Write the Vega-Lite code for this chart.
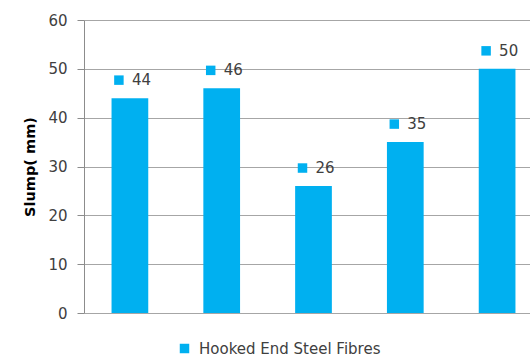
{
  "$schema": "https://vega.github.io/schema/vega-lite/v6.json",
  "autosize": "none",
  "width": 459,
  "height": 293,
  "padding": {"left": 84, "top": 20, "right": 0, "bottom": 44},
  "background": "white",
  "config": {
    "view": {"stroke": null},
    "font": "DejaVu Sans"
  },
  "data": {
    "values": [
      {"mix": "M1", "series": "Hooked End Steel Fibres", "slump": 44},
      {"mix": "M2", "series": "Hooked End Steel Fibres", "slump": 46},
      {"mix": "M3", "series": "Hooked End Steel Fibres", "slump": 26},
      {"mix": "M4", "series": "Hooked End Steel Fibres", "slump": 35},
      {"mix": "M5", "series": "Hooked End Steel Fibres", "slump": 50}
    ]
  },
  "encoding": {
    "x": {
      "field": "mix",
      "type": "nominal",
      "sort": null,
      "scale": {"paddingInner": 0.6, "paddingOuter": 0.3},
      "axis": null
    },
    "y": {
      "field": "slump",
      "type": "quantitative",
      "scale": {"domain": [0, 60], "nice": false},
      "axis": {
        "title": "Slump( mm)",
        "titleFont": "DejaVu Sans",
        "titleFontSize": 14.5,
        "titleFontWeight": "bold",
        "titleColor": "#000000",
        "titlePadding": 10,
        "values": [0, 10, 20, 30, 40, 50, 60],
        "labelFont": "DejaVu Sans",
        "labelFontSize": 15,
        "labelColor": "#404040",
        "labelPadding": 10,
        "tickSize": 7,
        "tickColor": "#8c8c8c",
        "domainColor": "#8c8c8c",
        "grid": true,
        "gridColor": "#a6a6a6",
        "gridWidth": 1
      }
    }
  },
  "layer": [
    {
      "mark": {"type": "bar", "color": "#00B0F0"},
      "encoding": {
        "color": {
          "field": "series",
          "type": "nominal",
          "scale": {"range": ["#00B0F0"]},
          "legend": {
            "title": null,
            "orient": "none",
            "legendX": 93,
            "legendY": 321,
            "padding": 0,
            "symbolType": "square",
            "symbolSize": 90,
            "symbolStrokeWidth": 0,
            "labelFont": "DejaVu Sans",
            "labelFontSize": 15,
            "labelColor": "#404040",
            "labelOffset": 7,
            "labelLimit": 400
          }
        }
      }
    },
    {
      "mark": {"type": "point", "shape": "square", "filled": true, "size": 90, "color": "#00B0F0", "opacity": 1, "xOffset": -11, "yOffset": -18}
    },
    {
      "mark": {"type": "text", "align": "left", "baseline": "middle", "xOffset": 2, "yOffset": -18, "font": "DejaVu Sans", "fontSize": 15, "color": "#404040"},
      "encoding": {"text": {"field": "slump", "type": "quantitative"}}
    }
  ]
}
